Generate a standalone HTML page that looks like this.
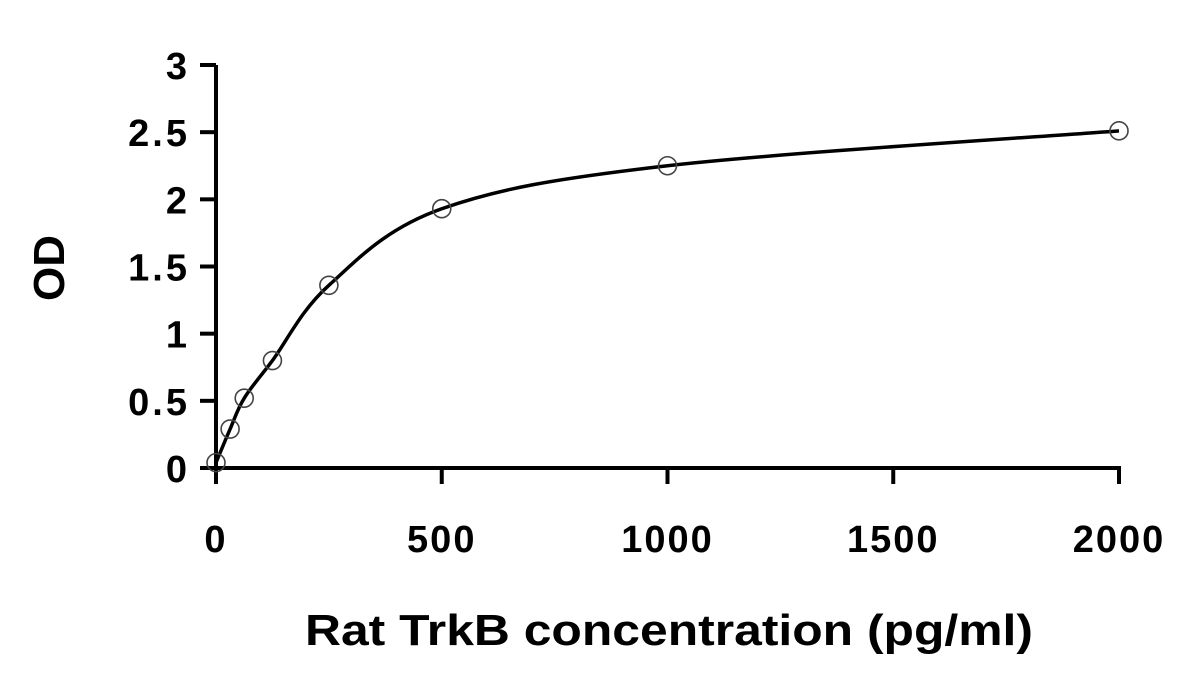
<!DOCTYPE html>
<html><head><meta charset="utf-8"><style>
html,body{margin:0;padding:0;background:#fff;}
svg text{font-family:"Liberation Sans",Arial,sans-serif;font-weight:bold;fill:#000;}
</style></head><body>
<svg id="chart" width="1195" height="688" xmlns="http://www.w3.org/2000/svg">
<g id="axes"></g>
<g id="marks"></g>
<text x="305" y="645" font-size="44" textLength="728" lengthAdjust="spacingAndGlyphs">Rat TrkB concentration (pg/ml)</text>
<text x="0" y="0" font-size="44" text-anchor="middle" transform="translate(64,268) rotate(-90)">OD</text>
</svg>
<script>
const concentrations = [0, 31.25, 62.5, 125, 250, 500, 1000, 2000];
const odValues = [0.04, 0.29, 0.52, 0.80, 1.36, 1.93, 2.25, 2.51];
const xTicks = [0, 500, 1000, 1500, 2000];
const yTicks = [0, 0.5, 1, 1.5, 2, 2.5, 3];
const yTickLabels = ["0", "0.5", "1", "1.5", "2", "2.5", "3"];

const X0 = 216, X1 = 1119, Y0 = 468, Y1 = 65;
const sx = v => X0 + (v - 0) / 2000 * (X1 - X0);
const sy = v => Y0 - v / 3 * (Y0 - Y1);
const NS = "http://www.w3.org/2000/svg";
const axes = document.getElementById('axes');
const marks = document.getElementById('marks');
function mk(tag, attrs, parent) {
  const e = document.createElementNS(NS, tag);
  for (const k in attrs) e.setAttribute(k, attrs[k]);
  parent.appendChild(e);
  return e;
}
let a = mk('line', {x1: X0, y1: Y1, x2: X0, y2: Y0 + 2, stroke: '#000', 'stroke-width': 4}, axes);


a = mk('line', {x1: X0 - 2, y1: Y0, x2: X1 + 2, y2: Y0, stroke: '#000', 'stroke-width': 4}, axes);


yTicks.forEach((t, i) => {
  const y = sy(t);
  const l = mk('line', {x1: X0 - 16, y1: y, x2: X0, y2: y, stroke: '#000', 'stroke-width': 4}, axes);
  
  
  const tx = mk('text', {x: 190, y: y + 14, 'font-size': 38, 'text-anchor': 'end', 'letter-spacing': 3}, axes);
  tx.textContent = yTickLabels[i];
  
  
});
xTicks.forEach(t => {
  const x = sx(t);
  const l = mk('line', {x1: x, y1: Y0, x2: x, y2: Y0 + 16, stroke: '#000', 'stroke-width': 4}, axes);
  
  
  const tx = mk('text', {x: x, y: 552, 'font-size': 38, 'text-anchor': 'middle', 'letter-spacing': 2}, axes);
  tx.textContent = String(t);
  
  
});
const pts = concentrations.map((c, i) => [sx(c), sy(odValues[i])]);
let d = `M${pts[0][0]},${pts[0][1]}`;
for (let i = 0; i < pts.length - 1; i++) {
  const p0 = pts[Math.max(0, i - 1)], p1 = pts[i], p2 = pts[i + 1], p3 = pts[Math.min(pts.length - 1, i + 2)];
  const c1 = [p1[0] + (p2[0] - p0[0]) / 6, p1[1] + (p2[1] - p0[1]) / 6];
  const c2 = [p2[0] - (p3[0] - p1[0]) / 6, p2[1] - (p3[1] - p1[1]) / 6];
  d += ` C${c1[0]},${c1[1]} ${c2[0]},${c2[1]} ${p2[0]},${p2[1]}`;
}
const path = mk('path', {d: d, fill: 'none', stroke: '#000', 'stroke-width': 3.5}, marks);


pts.forEach(p => {
  const c = mk('circle', {cx: p[0], cy: p[1], r: 9, fill: 'none', stroke: '#444', 'stroke-width': 1.6}, marks);
  
  
});
</script>
</body></html>
